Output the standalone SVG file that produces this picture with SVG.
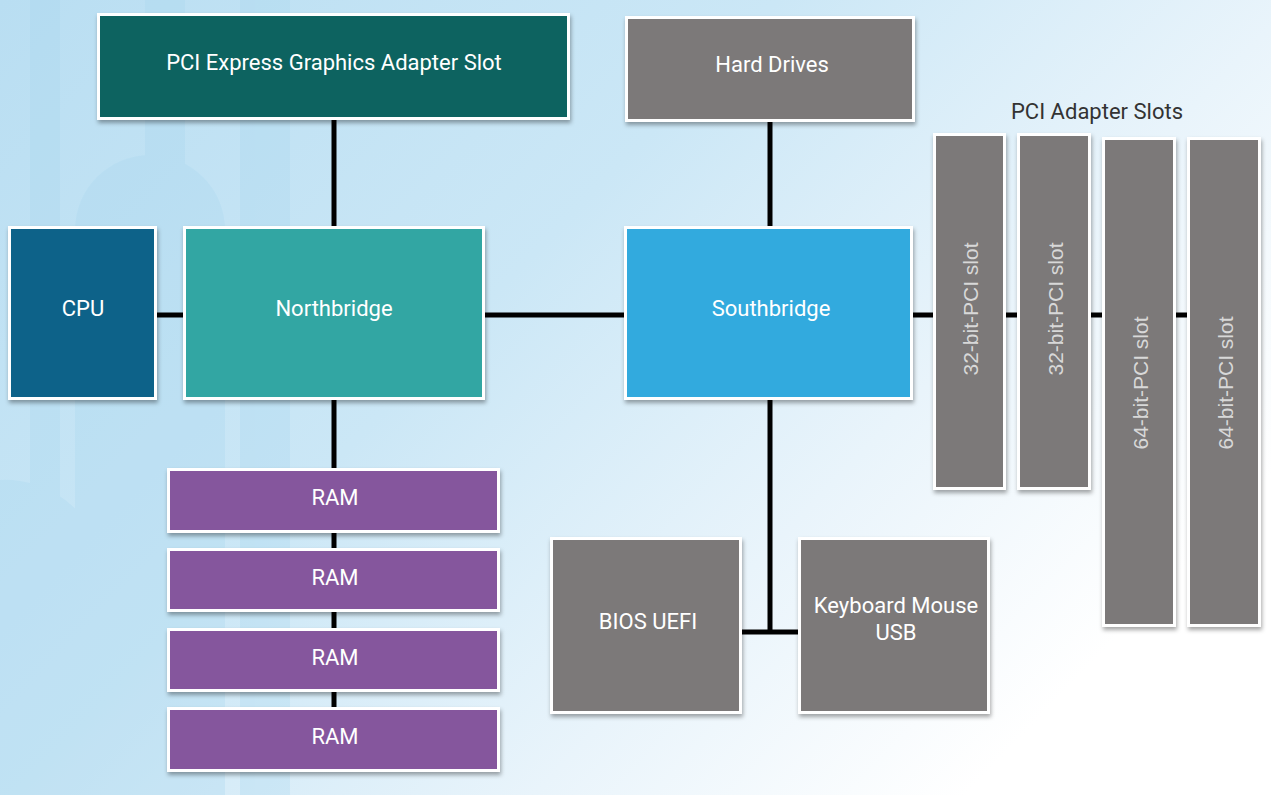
<svg xmlns="http://www.w3.org/2000/svg" width="1271" height="795" viewBox="0 0 1271 795">
<defs>
<linearGradient id="bg" x1="0" y1="0" x2="1" y2="0.6">
<stop offset="0" stop-color="#B9DEF2"/>
<stop offset="0.45" stop-color="#CBE7F6"/>
<stop offset="0.75" stop-color="#E9F4FB"/>
<stop offset="1" stop-color="#FFFFFF"/>
</linearGradient>
<filter id="sh" x="-10%" y="-10%" width="120%" height="125%">
<feDropShadow dx="1" dy="3" stdDeviation="2" flood-color="#000" flood-opacity="0.35"/>
</filter>
<style>
.box{stroke:#FFFFFF;stroke-width:3;filter:url(#sh)}
.t{font-family:Roboto,"Liberation Sans",Arial,sans-serif;font-size:22px;fill:#FFFFFF;text-anchor:middle;dominant-baseline:central}
.s{font-family:"Liberation Sans",Arial,sans-serif;font-size:21px;fill:#D8D8D8;text-anchor:middle;dominant-baseline:central}
.lbl{font-family:Roboto,"Liberation Sans",Arial,sans-serif;font-size:22px;fill:#333333;text-anchor:middle;dominant-baseline:central}
.c{stroke:#000000;stroke-width:5;fill:none}
.gray{fill:#7B7979}
.ram{fill:#85569D}
</style>
</defs>
<rect x="0" y="0" width="1271" height="795" fill="url(#bg)"/>
<g opacity="0.3" fill="#A9D7EF">
<rect x="30" y="0" width="30" height="795"/>
<rect x="145" y="0" width="40" height="795"/>
<rect x="240" y="0" width="50" height="795"/>
<path d="M75 230 A75 75 0 0 1 225 230 L225 795 L75 795 Z"/>
<path d="M0 480 A100 100 0 0 1 105 580 L105 795 L0 795 Z"/>
</g>
<g id="connectors">
<line class="c" x1="334" y1="120" x2="334" y2="226"/>
<line class="c" x1="157" y1="315" x2="183" y2="315"/>
<line class="c" x1="485" y1="315" x2="624" y2="315"/>
<line class="c" x1="770" y1="122" x2="770" y2="226"/>
<line class="c" x1="334" y1="400" x2="334" y2="707"/>
<line class="c" x1="770" y1="400" x2="770" y2="634"/>
<line class="c" x1="742" y1="632" x2="798" y2="632"/>
<line class="c" x1="913" y1="315" x2="1187" y2="315"/>
</g>
<g id="pcie"><rect class="box" x="98.5" y="14.5" width="470" height="104" fill="#0F6360"/><text class="t" x="334" y="62">PCI Express Graphics Adapter Slot</text></g>
<g id="harddrives"><rect class="box gray" x="626.5" y="17.5" width="287" height="103"/><text class="t" x="772" y="64">Hard Drives</text></g>
<g id="cpu"><rect class="box" x="9.5" y="227.5" width="146" height="171" fill="#0E6289"/><text class="t" x="83" y="308">CPU</text></g>
<g id="northbridge"><rect class="box" x="184.5" y="227.5" width="299" height="171" fill="#33A6A3"/><text class="t" x="334" y="308">Northbridge</text></g>
<g id="southbridge"><rect class="box" x="625.5" y="227.5" width="286" height="171" fill="#33AADE"/><text class="t" x="771" y="308">Southbridge</text></g>
<g id="ram1"><rect class="box ram" x="168.5" y="469.5" width="330" height="62"/><text class="t" x="335" y="497">RAM</text></g>
<g id="ram2"><rect class="box ram" x="168.5" y="549.5" width="330" height="61"/><text class="t" x="335" y="577">RAM</text></g>
<g id="ram3"><rect class="box ram" x="168.5" y="629.5" width="330" height="61"/><text class="t" x="335" y="657">RAM</text></g>
<g id="ram4"><rect class="box ram" x="168.5" y="708.5" width="330" height="62"/><text class="t" x="335" y="736">RAM</text></g>
<g id="bios"><rect class="box gray" x="551.5" y="538.5" width="189" height="174"/><text class="t" x="648" y="621">BIOS UEFI</text></g>
<g id="kmu"><rect class="box gray" x="799.5" y="538.5" width="189" height="174"/><text class="t" x="896" y="605">Keyboard Mouse</text><text class="t" x="896" y="632">USB</text></g>
<g id="slotslabel"><text class="lbl" x="1097" y="111">PCI Adapter Slots</text></g>
<g id="slot1"><rect class="box gray" x="934.5" y="134.5" width="70" height="354"/><text class="s" transform="translate(970 309) rotate(-90)">32-bit-PCI slot</text></g>
<g id="slot2"><rect class="box gray" x="1018.5" y="134.5" width="71" height="354"/><text class="s" transform="translate(1055 309) rotate(-90)">32-bit-PCI slot</text></g>
<g id="slot3"><rect class="box gray" x="1103.5" y="138.5" width="71" height="487"/><text class="s" transform="translate(1140 383) rotate(-90)">64-bit-PCI slot</text></g>
<g id="slot4"><rect class="box gray" x="1188.5" y="138.5" width="71" height="487"/><text class="s" transform="translate(1225 383) rotate(-90)">64-bit-PCI slot</text></g>
</svg>
